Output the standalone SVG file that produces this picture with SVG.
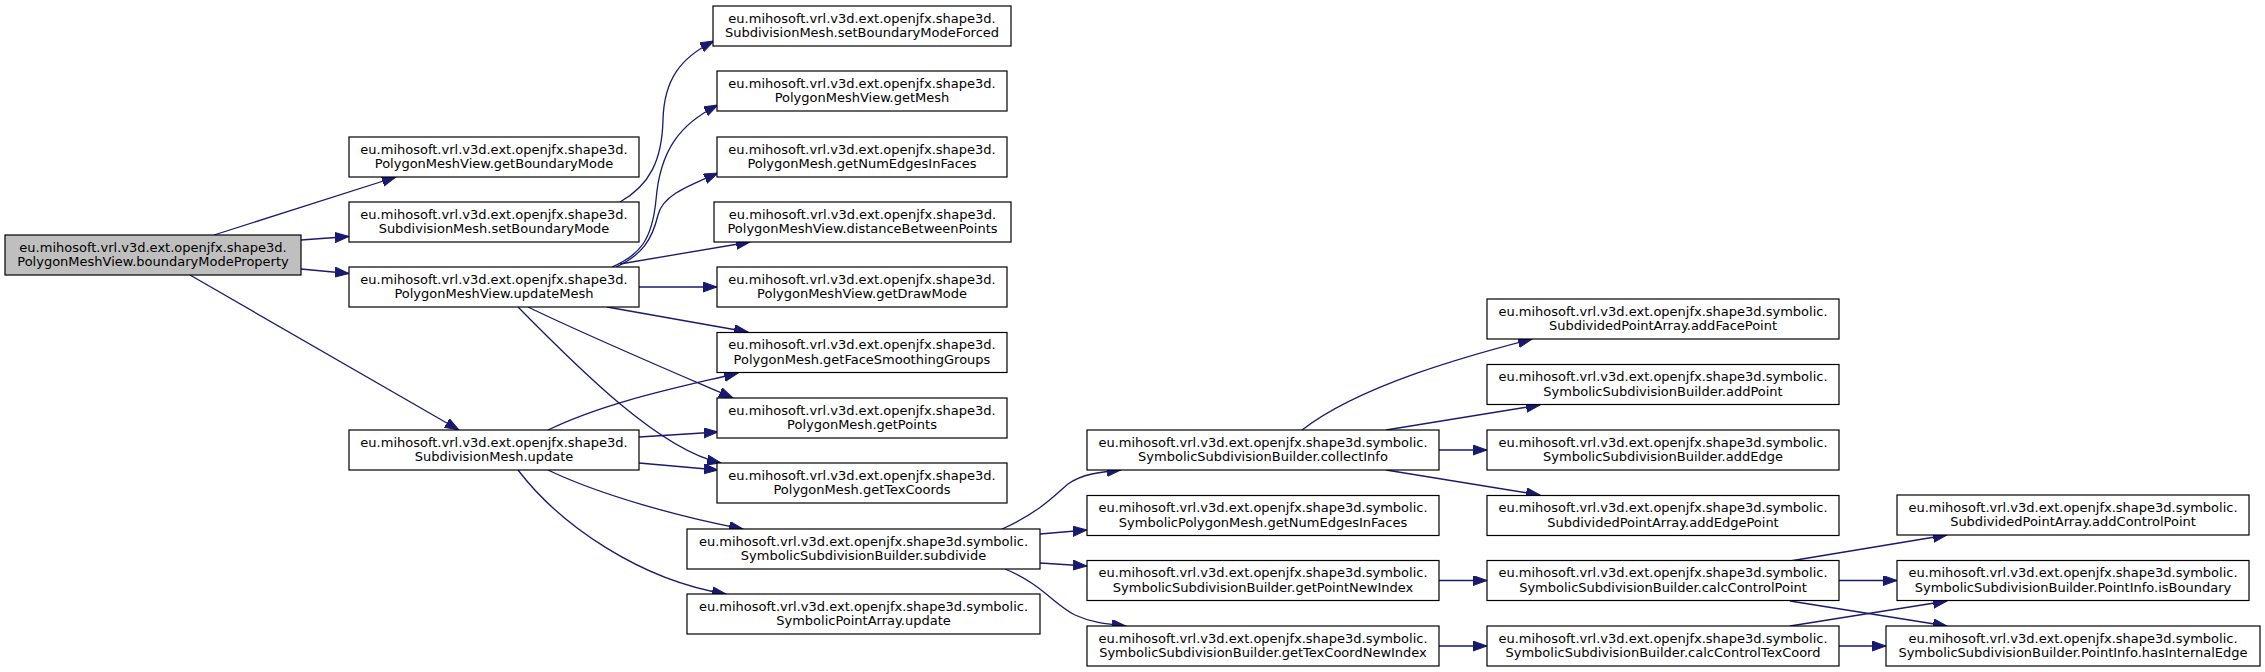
<svg xmlns="http://www.w3.org/2000/svg" width="2265" height="672" viewBox="0 0 2265 672">
<style>
.n rect{fill:#fff;stroke:#000;stroke-width:1.2}
.n.root rect{fill:#bfbfbf}
.n text{font-family:"DejaVu Sans",sans-serif;font-size:13px;text-anchor:middle;fill:#000}
.e path{fill:none;stroke:#191970;stroke-width:1.3;marker-end:url(#ah)}
</style>
<defs>
<marker id="ah" markerUnits="userSpaceOnUse" markerWidth="15" markerHeight="11" refX="14" refY="5" orient="auto">
<path d="M0,0 L14,5 L0,10 z" fill="#191970" stroke="#191970" stroke-width="1"/>
</marker>
</defs>
<rect width="2265" height="672" fill="#fff"/>
<g id="edges" class="e">
<path d="M214,235 L396,177"/>
<path d="M301,240 L349,236.5"/>
<path d="M301,269 L349,273.5"/>
<path d="M190,275 L459,430"/>
<path d="M620,202 C650,185 662,160 663,120 C664,80 680,58 714,41"/>
<path d="M612,267 C640,255 652,240 656,200 C660,150 680,124 718,105"/>
<path d="M616,267 C642,255 652,240 658,215 C663,195 688,186 718,173"/>
<path d="M620,264 L750,242"/>
<path d="M639,287 L717,287"/>
<path d="M607,307 L748,332"/>
<path d="M528,307 C590,337 680,375 733,398"/>
<path d="M518,307 C580,370 660,450 721,463"/>
<path d="M548,430 C610,400 690,385 738,373"/>
<path d="M639,437 L718,432"/>
<path d="M639,463 L718,470"/>
<path d="M548,470 C600,495 680,517 743,529"/>
<path d="M518,470 C560,525 640,580 726,594"/>
<path d="M1002,529 C1040,512 1055,495 1068,484 C1082,474 1100,472 1121,470"/>
<path d="M1040,534 L1087,530"/>
<path d="M1040,563 L1087,566"/>
<path d="M1005,569 C1040,583 1055,605 1075,615 C1090,622 1105,624 1126,626"/>
<path d="M1302,430 C1360,385 1470,355 1532,339"/>
<path d="M1386,430 L1540,405"/>
<path d="M1439,450 L1487,450"/>
<path d="M1386,470 L1540,495"/>
<path d="M1439,580.5 L1487,580.5"/>
<path d="M1439,646 L1487,646"/>
<path d="M1790,561 L1947,535"/>
<path d="M1839,580.5 L1897,580.5"/>
<path d="M1790,601 L1947,626"/>
<path d="M1790,626 L1947,601"/>
<path d="M1839,646 L1886,646"/>
</g>
<g id="n_boundaryModeProperty" class="n root"><rect x="5" y="235" width="296" height="40"/><text x="153" y="251.5">eu.mihosoft.vrl.v3d.ext.openjfx.shape3d.</text><text x="153" y="266">PolygonMeshView.boundaryModeProperty</text></g>
<g id="n_getBoundaryMode" class="n"><rect x="349" y="137" width="290" height="40"/><text x="494" y="153.5">eu.mihosoft.vrl.v3d.ext.openjfx.shape3d.</text><text x="494" y="168">PolygonMeshView.getBoundaryMode</text></g>
<g id="n_setBoundaryMode" class="n"><rect x="349" y="202" width="290" height="40"/><text x="494" y="218.5">eu.mihosoft.vrl.v3d.ext.openjfx.shape3d.</text><text x="494" y="233">SubdivisionMesh.setBoundaryMode</text></g>
<g id="n_updateMesh" class="n"><rect x="349" y="267" width="290" height="40"/><text x="494" y="283.5">eu.mihosoft.vrl.v3d.ext.openjfx.shape3d.</text><text x="494" y="298">PolygonMeshView.updateMesh</text></g>
<g id="n_update" class="n"><rect x="349" y="430" width="290" height="40"/><text x="494" y="446.5">eu.mihosoft.vrl.v3d.ext.openjfx.shape3d.</text><text x="494" y="461">SubdivisionMesh.update</text></g>
<g id="n_subdivide" class="n"><rect x="687" y="529" width="353" height="40"/><text x="863.5" y="545.5">eu.mihosoft.vrl.v3d.ext.openjfx.shape3d.symbolic.</text><text x="863.5" y="560">SymbolicSubdivisionBuilder.subdivide</text></g>
<g id="n_spaUpdate" class="n"><rect x="687" y="594" width="353" height="40"/><text x="863.5" y="610.5">eu.mihosoft.vrl.v3d.ext.openjfx.shape3d.symbolic.</text><text x="863.5" y="625">SymbolicPointArray.update</text></g>
<g id="n_setBoundaryModeForced" class="n"><rect x="713" y="6" width="298" height="40"/><text x="862" y="22.5">eu.mihosoft.vrl.v3d.ext.openjfx.shape3d.</text><text x="862" y="37">SubdivisionMesh.setBoundaryModeForced</text></g>
<g id="n_getMesh" class="n"><rect x="717" y="71" width="290" height="40"/><text x="862" y="87.5">eu.mihosoft.vrl.v3d.ext.openjfx.shape3d.</text><text x="862" y="102">PolygonMeshView.getMesh</text></g>
<g id="n_getNumEdgesInFaces" class="n"><rect x="717" y="137" width="290" height="40"/><text x="862" y="153.5">eu.mihosoft.vrl.v3d.ext.openjfx.shape3d.</text><text x="862" y="168">PolygonMesh.getNumEdgesInFaces</text></g>
<g id="n_distanceBetweenPoints" class="n"><rect x="714" y="202" width="297" height="40"/><text x="862.5" y="218.5">eu.mihosoft.vrl.v3d.ext.openjfx.shape3d.</text><text x="862.5" y="233">PolygonMeshView.distanceBetweenPoints</text></g>
<g id="n_getDrawMode" class="n"><rect x="717" y="267" width="290" height="40"/><text x="862" y="283.5">eu.mihosoft.vrl.v3d.ext.openjfx.shape3d.</text><text x="862" y="298">PolygonMeshView.getDrawMode</text></g>
<g id="n_getFaceSmoothingGroups" class="n"><rect x="717" y="332.5" width="290" height="40"/><text x="862" y="349">eu.mihosoft.vrl.v3d.ext.openjfx.shape3d.</text><text x="862" y="363.5">PolygonMesh.getFaceSmoothingGroups</text></g>
<g id="n_getPoints" class="n"><rect x="717" y="398" width="290" height="40"/><text x="862" y="414.5">eu.mihosoft.vrl.v3d.ext.openjfx.shape3d.</text><text x="862" y="429">PolygonMesh.getPoints</text></g>
<g id="n_getTexCoords" class="n"><rect x="717" y="463" width="290" height="40"/><text x="862" y="479.5">eu.mihosoft.vrl.v3d.ext.openjfx.shape3d.</text><text x="862" y="494">PolygonMesh.getTexCoords</text></g>
<g id="n_collectInfo" class="n"><rect x="1087" y="430" width="352" height="40"/><text x="1263" y="446.5">eu.mihosoft.vrl.v3d.ext.openjfx.shape3d.symbolic.</text><text x="1263" y="461">SymbolicSubdivisionBuilder.collectInfo</text></g>
<g id="n_spmGetNumEdgesInFaces" class="n"><rect x="1087" y="495.5" width="352" height="40"/><text x="1263" y="512">eu.mihosoft.vrl.v3d.ext.openjfx.shape3d.symbolic.</text><text x="1263" y="526.5">SymbolicPolygonMesh.getNumEdgesInFaces</text></g>
<g id="n_getPointNewIndex" class="n"><rect x="1087" y="560.5" width="352" height="40"/><text x="1263" y="577">eu.mihosoft.vrl.v3d.ext.openjfx.shape3d.symbolic.</text><text x="1263" y="591.5">SymbolicSubdivisionBuilder.getPointNewIndex</text></g>
<g id="n_getTexCoordNewIndex" class="n"><rect x="1087" y="626" width="352" height="40"/><text x="1263" y="642.5">eu.mihosoft.vrl.v3d.ext.openjfx.shape3d.symbolic.</text><text x="1263" y="657">SymbolicSubdivisionBuilder.getTexCoordNewIndex</text></g>
<g id="n_addFacePoint" class="n"><rect x="1487" y="299" width="352" height="40"/><text x="1663" y="315.5">eu.mihosoft.vrl.v3d.ext.openjfx.shape3d.symbolic.</text><text x="1663" y="330">SubdividedPointArray.addFacePoint</text></g>
<g id="n_addPoint" class="n"><rect x="1487" y="364.5" width="352" height="40"/><text x="1663" y="381">eu.mihosoft.vrl.v3d.ext.openjfx.shape3d.symbolic.</text><text x="1663" y="395.5">SymbolicSubdivisionBuilder.addPoint</text></g>
<g id="n_addEdge" class="n"><rect x="1487" y="430" width="352" height="40"/><text x="1663" y="446.5">eu.mihosoft.vrl.v3d.ext.openjfx.shape3d.symbolic.</text><text x="1663" y="461">SymbolicSubdivisionBuilder.addEdge</text></g>
<g id="n_addEdgePoint" class="n"><rect x="1487" y="495.5" width="352" height="40"/><text x="1663" y="512">eu.mihosoft.vrl.v3d.ext.openjfx.shape3d.symbolic.</text><text x="1663" y="526.5">SubdividedPointArray.addEdgePoint</text></g>
<g id="n_calcControlPoint" class="n"><rect x="1487" y="560.5" width="352" height="40"/><text x="1663" y="577">eu.mihosoft.vrl.v3d.ext.openjfx.shape3d.symbolic.</text><text x="1663" y="591.5">SymbolicSubdivisionBuilder.calcControlPoint</text></g>
<g id="n_calcControlTexCoord" class="n"><rect x="1487" y="626" width="352" height="40"/><text x="1663" y="642.5">eu.mihosoft.vrl.v3d.ext.openjfx.shape3d.symbolic.</text><text x="1663" y="657">SymbolicSubdivisionBuilder.calcControlTexCoord</text></g>
<g id="n_addControlPoint" class="n"><rect x="1897" y="495" width="352" height="40"/><text x="2073" y="511.5">eu.mihosoft.vrl.v3d.ext.openjfx.shape3d.symbolic.</text><text x="2073" y="526">SubdividedPointArray.addControlPoint</text></g>
<g id="n_isBoundary" class="n"><rect x="1897" y="560.5" width="352" height="40"/><text x="2073" y="577">eu.mihosoft.vrl.v3d.ext.openjfx.shape3d.symbolic.</text><text x="2073" y="591.5">SymbolicSubdivisionBuilder.PointInfo.isBoundary</text></g>
<g id="n_hasInternalEdge" class="n"><rect x="1886" y="626" width="374" height="40"/><text x="2073" y="642.5">eu.mihosoft.vrl.v3d.ext.openjfx.shape3d.symbolic.</text><text x="2073" y="657">SymbolicSubdivisionBuilder.PointInfo.hasInternalEdge</text></g>
</svg>
